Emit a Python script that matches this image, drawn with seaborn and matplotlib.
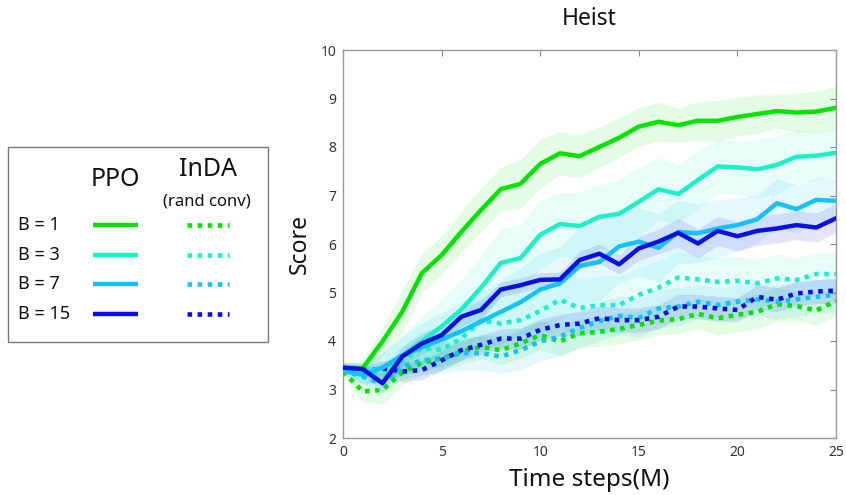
import numpy as np
import pandas as pd
import matplotlib
matplotlib.use('Agg')
import matplotlib.pyplot as plt
import seaborn as sns
from matplotlib.patches import Rectangle

# time steps (M)
steps = list(range(26))

# PPO mean scores
ppo_b1 = [3.44, 3.44, 3.99, 4.6, 5.4, 5.77, 6.25, 6.7, 7.13, 7.24, 7.65, 7.87, 7.81,
          8.0, 8.19, 8.42, 8.52, 8.45, 8.54, 8.54, 8.62, 8.68, 8.74, 8.71, 8.73, 8.81]
ppo_b3 = [3.45, 3.35, 3.45, 3.7, 4.0, 4.3, 4.65, 5.1, 5.61, 5.71, 6.19, 6.41, 6.37,
          6.56, 6.62, 6.87, 7.13, 7.03, 7.32, 7.6, 7.58, 7.54, 7.63, 7.8, 7.82, 7.88]
ppo_b7 = [3.4, 3.3, 3.45, 3.7, 3.87, 4.03, 4.2, 4.4, 4.6, 4.8, 5.06, 5.19, 5.55,
          5.63, 5.95, 6.05, 5.92, 6.25, 6.22, 6.32, 6.39, 6.51, 6.84, 6.72, 6.91, 6.89]
ppo_b15 = [3.45, 3.42, 3.13, 3.68, 3.95, 4.12, 4.5, 4.64, 5.06, 5.15, 5.26, 5.27, 5.67,
           5.8, 5.58, 5.91, 6.05, 6.23, 6.01, 6.27, 6.16, 6.27, 6.32, 6.39, 6.34, 6.53]

# InDA (rand conv) mean scores
inda_b1 = [3.37, 2.96, 2.99, 3.35, 3.55, 3.64, 3.78, 3.88, 3.81, 3.95, 4.12, 3.99, 4.16,
           4.19, 4.25, 4.33, 4.42, 4.45, 4.56, 4.47, 4.54, 4.6, 4.76, 4.72, 4.63, 4.83]
inda_b3 = [3.4, 3.3, 3.35, 3.6, 3.85, 3.82, 4.05, 4.42, 4.36, 4.43, 4.62, 4.85, 4.68,
           4.74, 4.74, 4.95, 5.1, 5.31, 5.27, 5.22, 5.24, 5.19, 5.29, 5.26, 5.38, 5.38]
inda_b7 = [3.4, 3.26, 3.13, 3.47, 3.6, 3.64, 3.75, 3.75, 3.68, 3.81, 3.99, 4.09, 4.27,
           4.41, 4.52, 4.48, 4.67, 4.71, 4.81, 4.74, 4.81, 4.86, 4.81, 4.86, 4.91, 4.95]
inda_b15 = [3.45, 3.37, 3.44, 3.37, 3.4, 3.6, 3.81, 3.92, 4.05, 4.05, 4.23, 4.33, 4.36,
            4.47, 4.43, 4.43, 4.5, 4.71, 4.71, 4.67, 4.64, 4.91, 4.85, 4.98, 5.02, 5.04]

# spread (std) for the shaded bands
ppo_b1_sd = [0.1, 0.15, 0.3, 0.45, 0.4, 0.4, 0.42, 0.45, 0.45, 0.5, 0.5, 0.45, 0.45,
             0.42, 0.4, 0.4, 0.4, 0.35, 0.4, 0.42, 0.4, 0.4, 0.35, 0.4, 0.42, 0.45]
ppo_b3_sd = [0.1, 0.2, 0.3, 0.4, 0.5, 0.55, 0.6, 0.65, 0.7, 0.7, 0.7, 0.65, 0.7,
             0.65, 0.7, 0.7, 0.65, 0.6, 0.6, 0.55, 0.55, 0.6, 0.6, 0.55, 0.5, 0.5]
ppo_b7_sd = [0.1, 0.2, 0.3, 0.4, 0.5, 0.55, 0.6, 0.6, 0.65, 0.7, 0.75, 0.75, 0.8,
             0.8, 0.75, 0.7, 0.7, 0.65, 0.6, 0.6, 0.55, 0.5, 0.5, 0.5, 0.45, 0.45]
ppo_b15_sd = [0.1, 0.12, 0.2, 0.2, 0.2, 0.22, 0.2, 0.2, 0.15, 0.15, 0.15, 0.15, 0.18,
              0.2, 0.2, 0.25, 0.25, 0.3, 0.3, 0.3, 0.3, 0.3, 0.3, 0.3, 0.3, 0.3]
inda_b1_sd = [0.1, 0.2, 0.3, 0.25, 0.25, 0.25, 0.25, 0.25, 0.3, 0.3, 0.3, 0.3, 0.3,
              0.3, 0.3, 0.3, 0.3, 0.3, 0.3, 0.35, 0.35, 0.35, 0.35, 0.3, 0.3, 0.3]
inda_b3_sd = [0.1, 0.15, 0.2, 0.3, 0.35, 0.4, 0.45, 0.5, 0.55, 0.6, 0.6, 0.6, 0.6,
              0.6, 0.6, 0.55, 0.55, 0.55, 0.5, 0.5, 0.5, 0.5, 0.5, 0.45, 0.45, 0.45]
inda_b7_sd = [0.1, 0.15, 0.2, 0.25, 0.3, 0.3, 0.35, 0.35, 0.35, 0.4, 0.4, 0.4, 0.4,
              0.4, 0.4, 0.4, 0.4, 0.4, 0.35, 0.35, 0.35, 0.35, 0.35, 0.35, 0.35, 0.35]
inda_b15_sd = [0.1, 0.12, 0.15, 0.2, 0.2, 0.2, 0.2, 0.2, 0.2, 0.22, 0.22, 0.22, 0.25,
               0.25, 0.25, 0.25, 0.25, 0.25, 0.25, 0.25, 0.25, 0.25, 0.25, 0.25, 0.25, 0.25]

batch_labels = ['B = 1', 'B = 3', 'B = 7', 'B = 15']
colors = ['#00e400', '#1cf0c8', '#12c2f8', '#0a10e0']

ppo_series = [(ppo_b1, ppo_b1_sd), (ppo_b3, ppo_b3_sd), (ppo_b7, ppo_b7_sd), (ppo_b15, ppo_b15_sd)]
inda_series = [(inda_b1, inda_b1_sd), (inda_b3, inda_b3_sd), (inda_b7, inda_b7_sd), (inda_b15, inda_b15_sd)]

sns.set_style('white')
plt.rcParams['font.family'] = ['Noto Sans', 'DejaVu Sans']

W, H = 846, 495
fig = plt.figure(figsize=(W / 100, H / 100), dpi=100)
ax = fig.add_axes([343 / W, 1 - 438 / H, (836 - 343) / W, (438 - 50) / H])

dotted = (0, (1, 1.2))

# bands first
for (m, sd), c in zip(ppo_series + inda_series, colors + colors):
    m = np.array(m)
    sd = np.array(sd)
    ax.fill_between(steps, m - sd, m + sd, color=c, alpha=0.11, linewidth=0, zorder=1)

for (m, sd), c in zip(inda_series, colors):
    df = pd.DataFrame({'step': steps, 'score': m})
    sns.lineplot(data=df, x='step', y='score', color=c, lw=3.3, ax=ax, zorder=3,
                 linestyle=dotted, dash_capstyle='butt')

for (m, sd), c in zip(ppo_series, colors):
    df = pd.DataFrame({'step': steps, 'score': m})
    sns.lineplot(data=df, x='step', y='score', color=c, lw=3.2, ax=ax, zorder=4)

ax.set_xlim(0, 25)
ax.set_ylim(2, 10)
ax.set_xticks([0, 5, 10, 15, 20, 25])
ax.set_yticks(range(2, 11))
ax.tick_params(direction='in', length=4, width=0.8, color='#888888',
               top=True, right=True, labelsize=10, labelcolor='#333333', pad=5)
for s in ax.spines.values():
    s.set_color('#999999')
    s.set_linewidth(1.0)
ax.set_title('Heist', fontsize=16.5, pad=18, color='#111111')
ax.set_xlabel('Time steps(M)', fontsize=17.5, labelpad=6, color='#111111')
ax.set_ylabel('Score', fontsize=16.5, labelpad=6, color='#111111')

# custom legend drawn in pixel coordinates
lax = fig.add_axes([0, 0, 300 / W, 1])
lax.set_xlim(0, 300)
lax.set_ylim(H, 0)
lax.axis('off')
lax.add_patch(Rectangle((8, 147), 260, 195, fill=False, edgecolor='#777777', lw=1.0))
lax.text(115, 180, 'PPO', fontsize=18, ha='center', va='center', color='#111111')
lax.text(208, 170, 'InDA', fontsize=18, ha='center', va='center', color='#111111')
lax.text(207, 201, '(rand conv)', fontsize=12, ha='center', va='center', color='#111111')
row_y = [225, 255, 284, 314]
for lab, c, y in zip(batch_labels, colors, row_y):
    lax.text(18, y, lab, fontsize=13, ha='left', va='center', color='#111111')
    lax.plot([93, 138], [y, y], color=c, lw=3.2, solid_capstyle='butt')
    lax.plot([187, 229], [y, y], color=c, lw=3.3, linestyle=dotted, dash_capstyle='butt')

fig.savefig('out.png', dpi=100)
